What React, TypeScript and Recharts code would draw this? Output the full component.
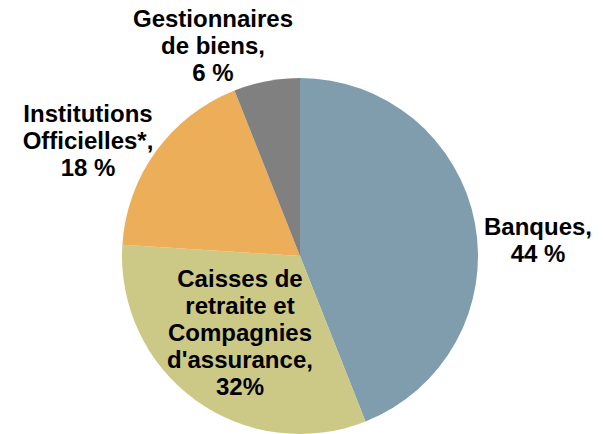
import React from 'react';
import { PieChart, Pie, Cell } from 'recharts';

// slices, clockwise from 12 o'clock
const names = ['Banques', 'Caisses de retraite et Compagnies d\'assurance', 'Institutions Officielles*', 'Gestionnaires de biens'];
const shares = [44, 32, 18, 6];
const labelLines = [
  ['Banques,', '44 %'],
  ['Caisses de', 'retraite et', 'Compagnies', "d'assurance,", '32%'],
  ['Institutions', 'Officielles*,', '18 %'],
  ['Gestionnaires', 'de biens,', '6 %'],
];

const COLORS = ['#7f9dac', '#ccc886', '#edae59', '#808080'];
// label block centre, offset from the pie centre
const LABEL_POS = [
  { dx: 238, dy: -16 },
  { dx: -60, dy: 76 },
  { dx: -212, dy: -116 },
  { dx: -87, dy: -211 },
];
const LINE_H = 27;

const data = names.map((name, i) => ({ name, value: shares[i] }));

const renderLabel = (props: any) => {
  const { cx, cy, index } = props;
  const lines = labelLines[index];
  const pos = LABEL_POS[index];
  const x = cx + pos.dx;
  const y0 = cy + pos.dy - ((lines.length - 1) * LINE_H) / 2;
  return (
    <text
      x={x}
      y={y0}
      textAnchor="middle"
      fill="#000"
      fontFamily="'Liberation Sans', Arial, sans-serif"
      fontWeight="bold"
      fontSize={24}
    >
      {lines.map((l, i) => (
        <tspan key={i} x={x} y={y0 + i * LINE_H} dominantBaseline="central">
          {l}
        </tspan>
      ))}
    </text>
  );
};

export default function App() {
  return (
    <div style={{ position: 'absolute', left: 0, top: 0, background: '#fff' }}>
      <PieChart width={603} height={434} margin={{ top: 0, right: 0, bottom: 0, left: 0 }}>
        <Pie
          data={data}
          dataKey="value"
          cx={300}
          cy={256}
          outerRadius={178}
          startAngle={90}
          endAngle={-270}
          stroke="none"
          label={renderLabel}
          labelLine={false}
          isAnimationActive={false}
        >
          {data.map((d, i) => (
            <Cell key={d.name} fill={COLORS[i]} />
          ))}
        </Pie>
      </PieChart>
    </div>
  );
}
